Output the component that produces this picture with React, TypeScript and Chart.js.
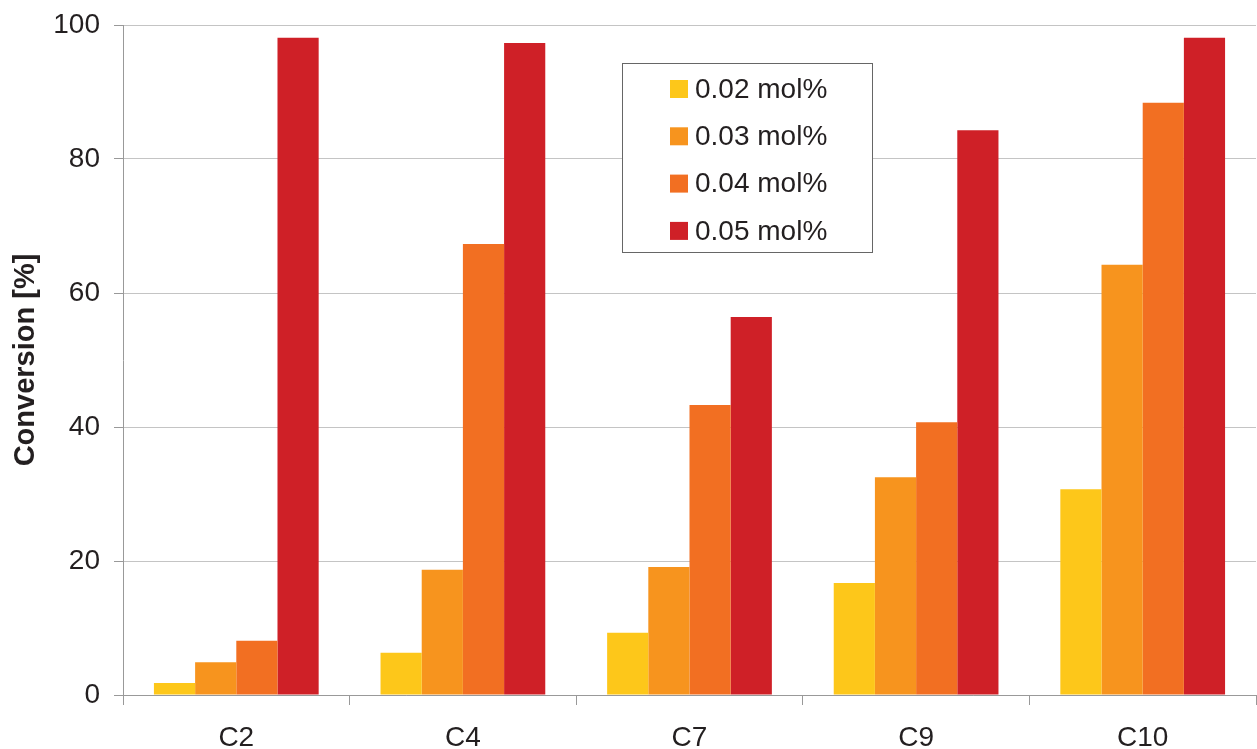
import React, { useEffect, useRef } from "react";
import { Chart, registerables } from "chart.js";

Chart.register(...registerables);

const categories = ["C2", "C4", "C7", "C9", "C10"];
const seriesLabels = ["0.02 mol%", "0.03 mol%", "0.04 mol%", "0.05 mol%"];
const s002 = [1.8, 6.3, 9.3, 16.7, 30.7];
const s003 = [4.9, 18.7, 19.1, 32.5, 64.2];
const s004 = [8.1, 67.3, 43.3, 40.7, 88.4];
const s005 = [98.1, 97.3, 56.4, 84.3, 98.1];
const colors = ["#FDC71A", "#F7941E", "#F26F22", "#CF2027"];
const yTicks = [0, 20, 40, 60, 80, 100];

const FONT = '"Liberation Sans", Arial, Helvetica, sans-serif';
const TEXT = "#231f20";

const boxLegend = {
  id: "boxLegend",
  afterDraw(chart: any) {
    const ctx = chart.ctx;
    const bx = 622.5, by = 63.5, bw = 250, bh = 189;
    ctx.save();
    ctx.fillStyle = "#ffffff";
    ctx.fillRect(bx, by, bw, bh);
    ctx.strokeStyle = "#666666";
    ctx.lineWidth = 1;
    ctx.strokeRect(bx, by, bw, bh);
    ctx.font = `28px ${FONT}`;
    ctx.textBaseline = "middle";
    ctx.textAlign = "left";
    chart.data.datasets.forEach((ds: any, i: number) => {
      const cy = 89 + i * 47.3;
      ctx.fillStyle = ds.backgroundColor;
      ctx.fillRect(670, cy - 9, 18, 18);
      ctx.fillStyle = TEXT;
      ctx.fillText(ds.label, 695, cy + 1);
    });
    ctx.restore();
  },
};

export default function App() {
  const ref = useRef<HTMLCanvasElement | null>(null);
  useEffect(() => {
    if (!ref.current) return;
    const data = [s002, s003, s004, s005];
    const chart = new Chart(ref.current, {
      type: "bar",
      data: {
        labels: categories,
        datasets: seriesLabels.map((l, i) => ({
          label: l,
          data: data[i],
          backgroundColor: colors[i],
          borderWidth: 0,
          categoryPercentage: 0.727,
          barPercentage: 1.0,
        })),
      },
      options: {
        animation: false,
        responsive: true,
        maintainAspectRatio: false,
        layout: { padding: { top: 25, right: 1, left: 0, bottom: 0 } },
        plugins: { legend: { display: false }, tooltip: { enabled: false } },
        scales: {
          x: {
            offset: true,
            grid: {
              display: true,
              drawOnChartArea: false,
              drawTicks: true,
              tickLength: 10,
              tickColor: "#999999",
              offset: true,
            },
            border: { color: "#999999", width: 1 },
            ticks: { color: TEXT, font: { family: FONT, size: 28 }, padding: 16, maxRotation: 0 },
            afterFit: (s: any) => { s.height = 54; s.paddingLeft = 0; s.paddingRight = 0; },
          },
          y: {
            min: 0,
            max: 100,
            afterBuildTicks: (s: any) => { s.ticks = yTicks.map((v) => ({ value: v })); },
            grid: { color: "#c4c4c4", tickColor: "#999999", tickLength: 9, lineWidth: 1 },
            border: { color: "#999999", width: 1 },
            ticks: { color: TEXT, font: { family: FONT, size: 28 }, padding: 14 },
            title: {
              display: true,
              text: "Conversion [%]",
              color: TEXT,
              font: { family: FONT, size: 29, weight: "bold" },
              padding: { top: 9, bottom: 0 },
            },
            afterFit: (s: any) => { s.width = 123; s.paddingTop = 0; s.paddingBottom = 0; },
          },
        },
      },
      plugins: [boxLegend],
    } as any);
    return () => chart.destroy();
  }, []);
  return (
    <div style={{ position: "fixed", left: 0, top: 0, width: 1257, height: 749, background: "#fff" }}>
      <canvas ref={ref} />
    </div>
  );
}
